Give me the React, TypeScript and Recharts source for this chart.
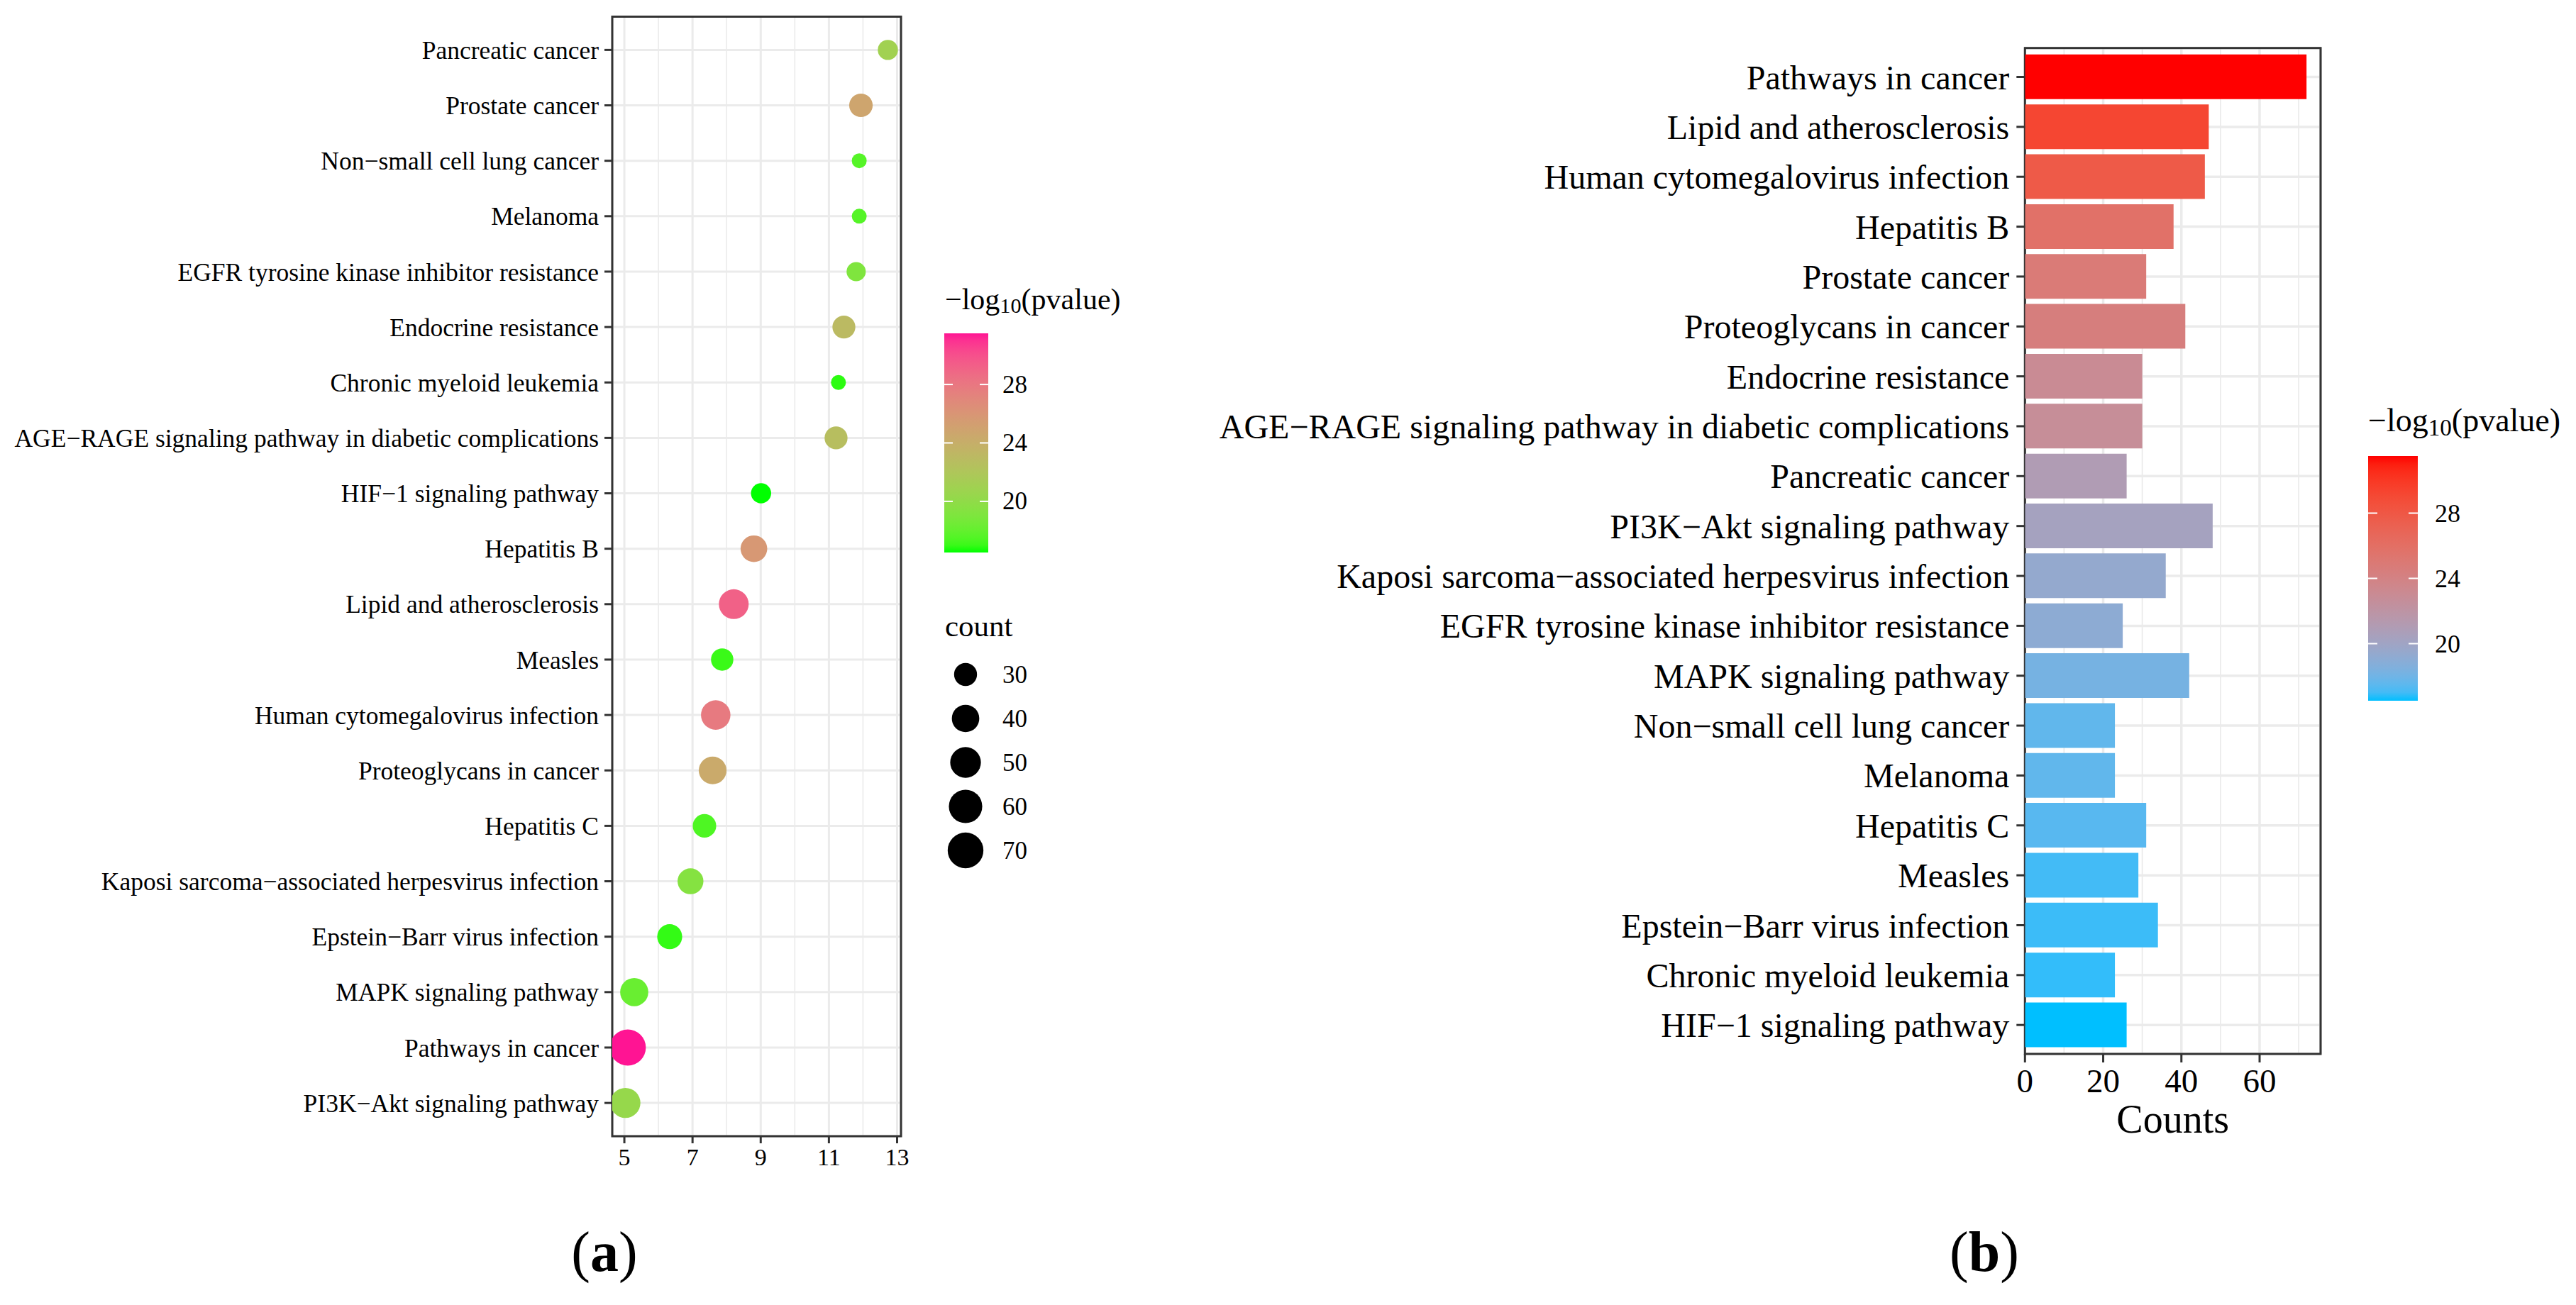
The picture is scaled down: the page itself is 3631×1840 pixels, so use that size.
import React from 'react';
import * as R from 'recharts';

const { ScatterChart, Scatter, BarChart, Bar, Cell, XAxis, YAxis, CartesianGrid } = R as any;

const FONT = '"Liberation Serif", "Times New Roman", Times, serif';

// ---------- Panel (b): bar chart, categories top -> bottom ----------
const barCategories = [
  'Pathways in cancer',
  'Lipid and atherosclerosis',
  'Human cytomegalovirus infection',
  'Hepatitis B',
  'Prostate cancer',
  'Proteoglycans in cancer',
  'Endocrine resistance',
  'AGE\u2212RAGE signaling pathway in diabetic complications',
  'Pancreatic cancer',
  'PI3K\u2212Akt signaling pathway',
  'Kaposi sarcoma\u2212associated herpesvirus infection',
  'EGFR tyrosine kinase inhibitor resistance',
  'MAPK signaling pathway',
  'Non\u2212small cell lung cancer',
  'Melanoma',
  'Hepatitis C',
  'Measles',
  'Epstein\u2212Barr virus infection',
  'Chronic myeloid leukemia',
  'HIF\u22121 signaling pathway',
];
const barCounts = [72, 47, 46, 38, 31, 41, 30, 30, 26, 48, 36, 25, 42, 23, 23, 31, 29, 34, 23, 26];
const barLogP = [31.5, 29.2, 27.8, 25.8, 24.8, 24.4, 23.0, 22.7, 21.0, 20.3, 19.4, 19.1, 18.2, 17.6, 17.6, 17.4, 17.0, 16.9, 16.8, 16.5];

// ---------- Panel (a): dot plot, categories top -> bottom ----------
const dotCategories = [
  'Pancreatic cancer',
  'Prostate cancer',
  'Non\u2212small cell lung cancer',
  'Melanoma',
  'EGFR tyrosine kinase inhibitor resistance',
  'Endocrine resistance',
  'Chronic myeloid leukemia',
  'AGE\u2212RAGE signaling pathway in diabetic complications',
  'HIF\u22121 signaling pathway',
  'Hepatitis B',
  'Lipid and atherosclerosis',
  'Measles',
  'Human cytomegalovirus infection',
  'Proteoglycans in cancer',
  'Hepatitis C',
  'Kaposi sarcoma\u2212associated herpesvirus infection',
  'Epstein\u2212Barr virus infection',
  'MAPK signaling pathway',
  'Pathways in cancer',
  'PI3K\u2212Akt signaling pathway',
];
const dotEnrichment = [12.73, 11.94, 11.89, 11.89, 11.80, 11.44, 11.28, 11.21, 9.01, 8.80, 8.21, 7.87, 7.68, 7.59, 7.35, 6.94, 6.33, 5.29, 5.10, 5.03];

// ---------- ticks ----------
const dotTicks = [5, 7, 9, 11, 13];
const dotMinorTicks = [6, 8, 10, 12];
const countTicks = [0, 20, 40, 60];
const countMinorTicks = [10, 30, 50, 70];
const colorTicks = [20, 24, 28];
const sizeLegendCounts = [30, 40, 50, 60, 70];

// ---------- derived tables ----------
const barData = barCategories.map((name, i) => ({ name, count: barCounts[i], logp: barLogP[i] }));
const dotData = dotCategories.map((name, i) => {
  const j = barCategories.indexOf(name);
  return { name, enrichment: dotEnrichment[i], row: dotCategories.length - i, count: barCounts[j], logp: barLogP[j] };
});
const rowTicks = dotData.map((d) => d.row).sort((a, b) => a - b);

const pMin = Math.min(...barLogP);
const pMax = Math.max(...barLogP);
const cMin = Math.min(...barCounts);
const cMax = Math.max(...barCounts);
const eMin = Math.min(...dotEnrichment);
const eMax = Math.max(...dotEnrichment);
const eExp = (eMax - eMin) * 0.05;
const dotDomain = [eMin - eExp, eMax + eExp];
const rowDomain = [0.4, dotCategories.length + 0.6];
const countDomain = [0, cMax * 1.05];

// ---------- colour scales (CIELAB interpolation, like ggplot2) ----------
const WHITE = [0.95047, 1, 1.08883];
function hexToLab(hex: string) {
  const n = parseInt(hex.slice(1), 16);
  const [r, g, b] = [(n >> 16) & 255, (n >> 8) & 255, n & 255].map((c) => {
    const v = c / 255;
    return v <= 0.04045 ? v / 12.92 : Math.pow((v + 0.055) / 1.055, 2.4);
  });
  const X = (0.4124564 * r + 0.3575761 * g + 0.1804375 * b) / WHITE[0];
  const Y = (0.2126729 * r + 0.7151522 * g + 0.072175 * b) / WHITE[1];
  const Z = (0.0193339 * r + 0.119192 * g + 0.9503041 * b) / WHITE[2];
  const f = (t: number) => (t > 216 / 24389 ? Math.cbrt(t) : ((24389 / 27) * t + 16) / 116);
  const fx = f(X), fy = f(Y), fz = f(Z);
  return [116 * fy - 16, 500 * (fx - fy), 200 * (fy - fz)];
}
function labToRgb(lab: number[]) {
  const [L, a, b] = lab;
  const fy = (L + 16) / 116, fx = fy + a / 500, fz = fy - b / 200;
  const finv = (t: number) => {
    const t3 = t * t * t;
    return t3 > 216 / 24389 ? t3 : (116 * t - 16) / (24389 / 27);
  };
  const X = finv(fx) * WHITE[0], Y = finv(fy) * WHITE[1], Z = finv(fz) * WHITE[2];
  const r = 3.2404542 * X - 1.5371385 * Y - 0.4985314 * Z;
  const g = -0.969266 * X + 1.8760108 * Y + 0.041556 * Z;
  const bb = 0.0556434 * X - 0.2040259 * Y + 1.0572252 * Z;
  const enc = (c: number) => {
    const cc = Math.max(0, Math.min(1, c));
    const v = cc <= 0.0031308 ? 12.92 * cc : 1.055 * Math.pow(cc, 1 / 2.4) - 0.055;
    return Math.round(v * 255);
  };
  return `rgb(${enc(r)},${enc(g)},${enc(bb)})`;
}
function makeGradient(low: string, high: string, min: number, max: number) {
  const l1 = hexToLab(low), l2 = hexToLab(high);
  return (v: number) => {
    const t = Math.max(0, Math.min(1, (v - min) / (max - min)));
    return labToRgb(l1.map((c, i) => c + (l2[i] - c) * t));
  };
}
const dotColor = makeGradient('#00FF00', '#FF1493', pMin, pMax);
const barColor = makeGradient('#00BFFF', '#FF0000', pMin, pMax);

// size scale (area palette like scale_size): diameter in px
const dotDiameter = (c: number) => 21 + 30 * Math.sqrt(Math.max(0, (c - cMin) / (cMax - cMin)));

// ---------- helpers ----------
const usePA: any = (R as any).usePlotArea;
function PanelBorder() {
  const pa = usePA ? usePA() : null;
  if (!pa) return null;
  return <rect x={pa.x} y={pa.y} width={pa.width} height={pa.height} fill="none" stroke="#333333" strokeWidth={3} />;
}

const DotShape = (p: any) => (
  <circle cx={p.cx} cy={p.cy} r={dotDiameter(p.payload.count) / 2} fill={dotColor(p.payload.logp)} />
);

function ColorBar(props: any) {
  const { id, x, y, w, h, scale, tickLen, labelX, fontSize } = props;
  const stops = Array.from({ length: 31 }, (_, k) => k / 30);
  const yOf = (v: number) => y + ((pMax - v) / (pMax - pMin)) * h;
  return (
    <g>
      <defs>
        <linearGradient id={id} x1="0" y1="0" x2="0" y2="1">
          {stops.map((s) => (
            <stop key={s} offset={s} stopColor={scale(pMax - (pMax - pMin) * s)} />
          ))}
        </linearGradient>
      </defs>
      <rect x={x} y={y} width={w} height={h} fill={`url(#${id})`} />
      {colorTicks.map((v) => (
        <g key={v}>
          <line x1={x} x2={x + tickLen} y1={yOf(v)} y2={yOf(v)} stroke="#fff" strokeWidth={2} />
          <line x1={x + w - tickLen} x2={x + w} y1={yOf(v)} y2={yOf(v)} stroke="#fff" strokeWidth={2} />
          <text x={labelX} y={yOf(v)} dominantBaseline="central" fontSize={fontSize} fontFamily={FONT} fill="#000">
            {v}
          </text>
        </g>
      ))}
    </g>
  );
}

function LegendTitle({ x, y, fontSize }: any) {
  return (
    <text x={x} y={y} dominantBaseline="central" fontSize={fontSize} fontFamily={FONT} fill="#000">
      <tspan>{'\u2212log'}</tspan>
      <tspan fontSize={fontSize * 0.72} dy={fontSize * 0.22}>10</tspan>
      <tspan dy={-fontSize * 0.22}>(pvalue)</tspan>
    </text>
  );
}

export default function App() {
  const tickLineStyle = { stroke: '#333333', strokeWidth: 3 };
  return (
    <div
      style={{
        position: 'absolute',
        left: 0,
        top: 0,
        width: 3631,
        height: 1840,
        background: '#ffffff',
        overflow: 'hidden',
        fontFamily: FONT,
      }}
    >
      {/* Panel (a) */}
      <div style={{ position: 'absolute', left: -200, top: 0 }}>
        <ScatterChart width={1500} height={1700} margin={{ top: 23.5, right: 30, bottom: 0, left: 0 }}>
          <XAxis xAxisId="minor" type="number" dataKey="enrichment" domain={dotDomain} ticks={dotMinorTicks} hide allowDataOverflow />
          <CartesianGrid xAxisId="minor" horizontal={false} stroke="#EBEBEB" strokeWidth={1.6} />
          <CartesianGrid stroke="#EBEBEB" strokeWidth={3} />
          <XAxis
            type="number"
            dataKey="enrichment"
            domain={dotDomain}
            ticks={dotTicks}
            interval={0}
            allowDataOverflow
            axisLine={false}
            tickLine={tickLineStyle}
            tickSize={10}
            tickMargin={7}
            height={98}
            tick={{ fill: '#000', fontSize: 34, fontFamily: FONT }}
          />
          <YAxis
            type="number"
            dataKey="row"
            domain={rowDomain}
            ticks={rowTicks}
            interval={0}
            allowDataOverflow
            tickFormatter={(v: number) => dotCategories[dotCategories.length - v]}
            axisLine={false}
            tickLine={tickLineStyle}
            tickSize={11}
            tickMargin={8}
            width={1063}
            tick={{ fill: '#000', fontSize: 35.5, fontFamily: FONT }}
          />
          <Scatter data={dotData} isAnimationActive={false} shape={DotShape} />
          <PanelBorder />
        </ScatterChart>
      </div>

      {/* Panel (b) */}
      <div style={{ position: 'absolute', left: 1500, top: 0 }}>
        <BarChart
          layout="vertical"
          width={1800}
          height={1650}
          data={barData}
          margin={{ top: 67.7, right: 29, bottom: 0, left: 0 }}
          barCategoryGap="5%"
        >
          <XAxis xAxisId="minor" type="number" dataKey="count" domain={countDomain} ticks={countMinorTicks} hide allowDataOverflow />
          <CartesianGrid xAxisId="minor" horizontal={false} stroke="#EBEBEB" strokeWidth={1.8} />
          <CartesianGrid stroke="#EBEBEB" strokeWidth={3.5} />
          <XAxis
            type="number"
            dataKey="count"
            domain={countDomain}
            ticks={countTicks}
            interval={0}
            allowDataOverflow
            axisLine={false}
            tickLine={tickLineStyle}
            tickSize={12}
            tickMargin={9}
            height={164}
            tick={{ fill: '#000', fontSize: 47, fontFamily: FONT }}
            label={{ value: 'Counts', position: 'insideBottom', offset: 53, fontSize: 56, fill: '#000', fontFamily: FONT }}
          />
          <YAxis
            type="category"
            dataKey="name"
            interval={0}
            padding={{ top: 5.65, bottom: 5.65 }}
            axisLine={false}
            tickLine={tickLineStyle}
            tickSize={12}
            tickMargin={10}
            width={1354.3}
            tick={{ fill: '#000', fontSize: 48, fontFamily: FONT }}
          />
          <Bar dataKey="count" isAnimationActive={false}>
            {barData.map((d) => (
              <Cell key={d.name} fill={barColor(d.logp)} />
            ))}
          </Bar>
          <PanelBorder />
        </BarChart>
      </div>

      {/* Legends and panel letters */}
      <svg
        width={3631}
        height={1840}
        style={{ position: 'absolute', left: 0, top: 0, pointerEvents: 'none' }}
      >
        {/* panel (a) colour legend */}
        <LegendTitle x={1332} y={422} fontSize={42} />
        <ColorBar id="gradA" x={1331} y={470} w={62} h={309} scale={dotColor} tickLen={12} labelX={1413} fontSize={35} />
        {/* size legend */}
        <text x={1332} y={882} dominantBaseline="central" fontSize={43} fontFamily={FONT} fill="#000">
          count
        </text>
        {sizeLegendCounts.map((c, i) => (
          <g key={c}>
            <circle cx={1361} cy={951 + i * 62} r={dotDiameter(c) / 2} fill="#000" />
            <text x={1413} y={951 + i * 62} dominantBaseline="central" fontSize={35} fontFamily={FONT} fill="#000">
              {c}
            </text>
          </g>
        ))}

        {/* panel (b) colour legend */}
        <LegendTitle x={3338} y={592} fontSize={46} />
        <ColorBar id="gradB" x={3338} y={643} w={70} h={345} scale={barColor} tickLen={13} labelX={3432} fontSize={36} />

        {/* panel letters */}
        <text x={852} y={1792} textAnchor="middle" fontSize={80} fontFamily={FONT} fill="#000">
          <tspan>(</tspan>
          <tspan fontWeight="bold">a</tspan>
          <tspan>)</tspan>
        </text>
        <text x={2797} y={1792} textAnchor="middle" fontSize={80} fontFamily={FONT} fill="#000">
          <tspan>(</tspan>
          <tspan fontWeight="bold">b</tspan>
          <tspan>)</tspan>
        </text>
      </svg>
    </div>
  );
}
